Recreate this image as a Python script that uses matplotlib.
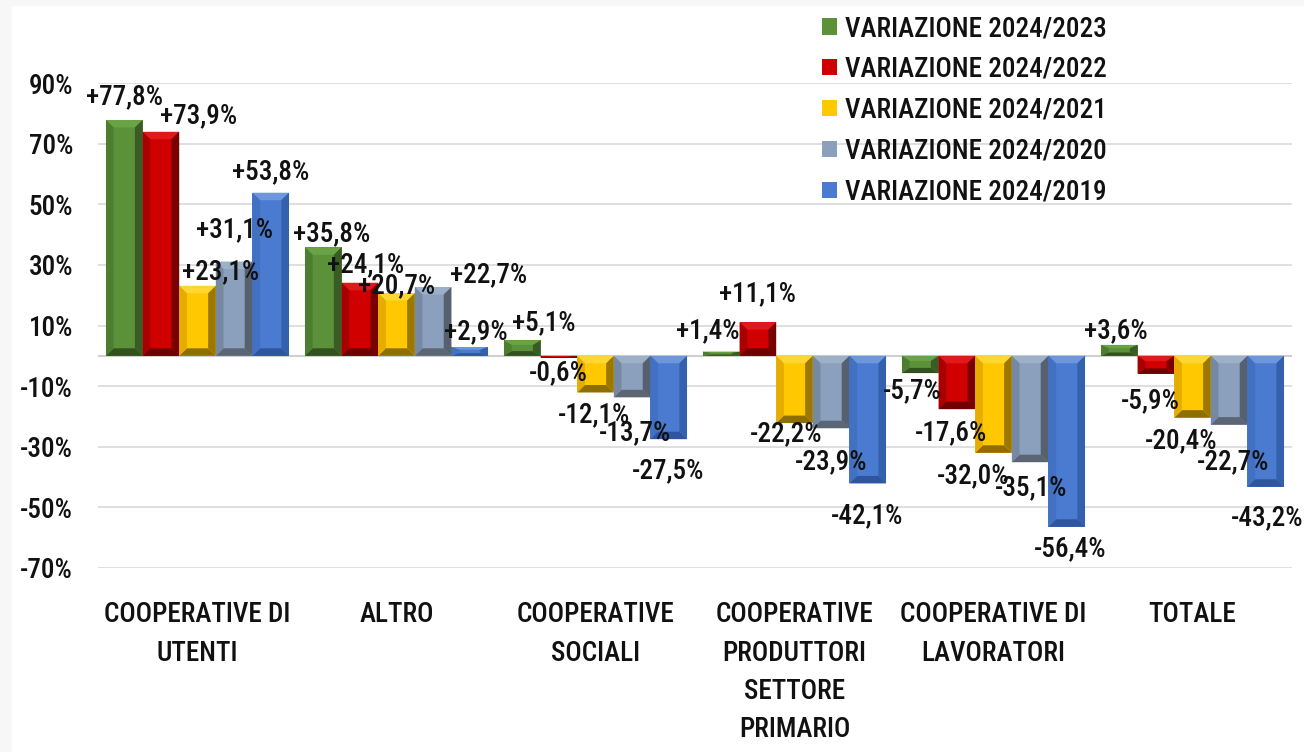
import matplotlib
matplotlib.use("Agg")
import matplotlib.pyplot as plt
from matplotlib.patches import Rectangle, Polygon
import numpy as np

# ---------------- data ----------------
categories = ["COOPERATIVE DI\nUTENTI", "ALTRO", "COOPERATIVE\nSOCIALI",
              "COOPERATIVE\nPRODUTTORI\nSETTORE\nPRIMARIO",
              "COOPERATIVE DI\nLAVORATORI", "TOTALE"]
series_names = ["VARIAZIONE 2024/2023", "VARIAZIONE 2024/2022", "VARIAZIONE 2024/2021",
                "VARIAZIONE 2024/2020", "VARIAZIONE 2024/2019"]
var_2023 = [77.8, 35.8, 5.1, 1.4, -5.7, 3.6]
var_2022 = [73.9, 24.1, -0.6, 11.1, -17.6, -5.9]
var_2021 = [23.1, 20.7, -12.1, -22.2, -32.0, -20.4]
var_2020 = [31.1, 22.7, -13.7, -23.9, -35.1, -22.7]
var_2019 = [53.8, 2.9, -27.5, -42.1, -56.4, -43.2]
series_values = [var_2023, var_2022, var_2021, var_2020, var_2019]
y_ticks = [-70, -50, -30, -10, 10, 30, 50, 70, 90]

# ---------------- styles ----------------
palette = [
    dict(face="#5a9139", left="#4d7d30", right="#3a5c24", top="#6aa346", bottom="#33501f"),
    dict(face="#d00000", left="#a80000", right="#780000", top="#e01a1a", bottom="#6e0000"),
    dict(face="#ffc800", left="#e6ac00", right="#9c7800", top="#ffd633", bottom="#8f6e00"),
    dict(face="#8aa0bc", left="#7589a3", right="#56606e", top="#9cb0c8", bottom="#5b6574"),
    dict(face="#4a7bd0", left="#4270c2", right="#3461ae", top="#6d96dd", bottom="#2f55a0"),
]
label_offsets = [
    [(0, 23), (8, 14), (21, 17.5), (-14, 21), (-8, -18), (-3, 14)],
    [(38, 16.5), (6, 18.5), (-1, -15), (0, 28.5), (-6, -24), (-6, -27)],
    [(23.5, 14), (0, 7.5), (-1.5, -22.5), (-8.5, -10.5), (-20.5, -23), (-11.5, -23.5)],
    [(0, 32), (55, 12.5), (3, -35.5), (0, -33.5), (1, -26), (4, -37)],
    [(0, 21), (6, 15), (-1, -32), (-1, -32.5), (3, -21.5), (1, -31)],
]

FONT = ["Roboto Condensed", "PT Sans Narrow", "DejaVu Sans"]
plt.rcParams["font.family"] = FONT
plt.rcParams["font.weight"] = "medium"
FS = 19.5
TXT = "#111111"

W, H = 1304, 752
fig = plt.figure(figsize=(W / 100, H / 100), dpi=100)
fig.patch.set_facecolor("#f7f7f7")
fig.add_artist(Rectangle((12 / W, 0), 1, (H - 6) / H, transform=fig.transFigure,
                         facecolor="white", edgecolor="none", zorder=-10))

ax = fig.add_axes([98 / W, (H - 568) / H, (1292 - 98) / W, (568 - 83) / H])
ax.set_facecolor("none")
ax.set_xlim(-0.5, len(categories) - 0.5)
ax.set_ylim(-70, 90)
for s in ax.spines.values():
    s.set_visible(False)

ax.set_yticks(y_ticks)
ax.set_yticklabels([f"{t}%" for t in y_ticks], fontsize=FS, color=TXT)
ax.tick_params(axis="y", length=0, pad=18)
ax.yaxis.grid(True, color="#d9d9d9", linewidth=1.2, zorder=0)
ax.set_axisbelow(True)

x = np.arange(len(categories))
ax.set_xticks(x)
ax.set_xticklabels(categories, fontsize=FS, color=TXT, linespacing=1.54)
ax.tick_params(axis="x", length=0, pad=24)

ax.axhline(0, color="#d0d0d0", linewidth=1.5, zorder=1)

bw = 0.184
px_per_unit_y = (ax.transData.transform((0, 1))[1] - ax.transData.transform((0, 0))[1])
bevel_px = 7.5
handles = []
for j, (vals, name, pal) in enumerate(zip(series_values, series_names, palette)):
    bars = ax.bar(x + (j - 2) * bw, vals, bw, color=pal["face"], edgecolor="none",
                  zorder=3, label=name)
    handles.append(bars)
    for i, rect in enumerate(bars.patches):
        x0 = rect.get_x()
        x1 = x0 + rect.get_width()
        ya = rect.get_y()
        yb = ya + rect.get_height()
        y0, y1 = min(ya, yb), max(ya, yb)
        h = y1 - y0
        bx = rect.get_width() * 0.21
        by = min(bevel_px / px_per_unit_y, h * 0.3)
        polys = [
            ("top", [(x0, y1), (x1, y1), (x1 - bx, y1 - by), (x0 + bx, y1 - by)]),
            ("bottom", [(x0, y0), (x1, y0), (x1 - bx, y0 + by), (x0 + bx, y0 + by)]),
            ("left", [(x0, y0), (x0 + bx, y0 + by), (x0 + bx, y1 - by), (x0, y1)]),
            ("right", [(x1, y0), (x1 - bx, y0 + by), (x1 - bx, y1 - by), (x1, y1)]),
        ]
        for key, pts in polys:
            ax.add_patch(Polygon(pts, closed=True, facecolor=pal[key], edgecolor="none",
                                 zorder=3.5))
        v = vals[i]
        dx, dy = label_offsets[j][i]
        lab = f"{v:+.1f}%".replace(".", ",")
        ax.annotate(lab, xy=(rect.get_x() + rect.get_width() / 2, v), xytext=(dx, dy),
                    textcoords="offset pixels", ha="center", va="center",
                    fontsize=FS, color=TXT, zorder=6)

leg = ax.legend(handles=handles, loc="upper left",
                bbox_to_anchor=(822 / W, (H - 15) / H), bbox_transform=fig.transFigure,
                frameon=False, fontsize=FS, handlelength=0.55, handleheight=0.55,
                handletextpad=0.3, labelspacing=0.51, borderpad=0, borderaxespad=0)
for t in leg.get_texts():
    t.set_color(TXT)

fig.savefig("out.png", dpi=100, facecolor=fig.get_facecolor())
